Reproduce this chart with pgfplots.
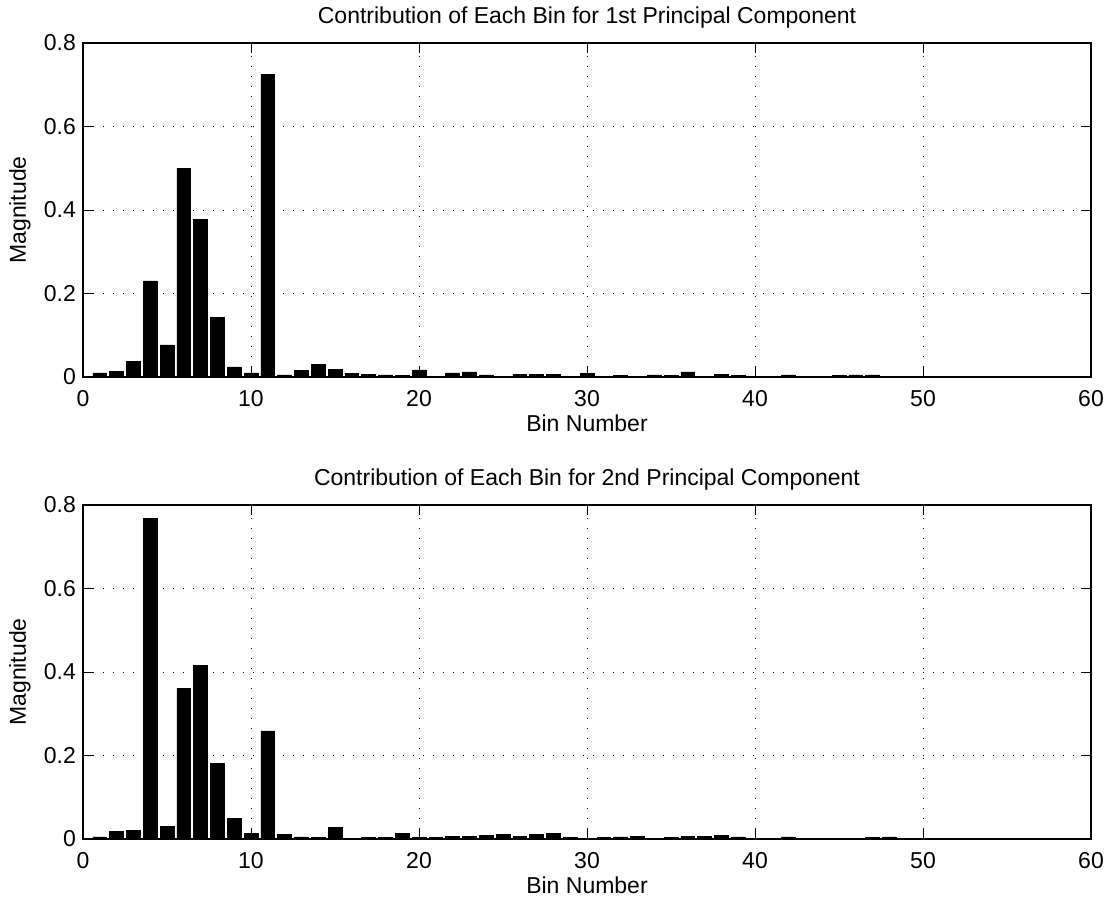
\documentclass[border=0pt]{standalone}
\usepackage{pgfplots}
\usepackage{pgfplotstable}
\usepackage{fontspec}
\setmainfont{Liberation Sans}
\pgfplotsset{compat=1.18}
\pgfplotstableread{
bin val
1 0.010
2 0.013
3 0.038
4 0.230
5 0.077
6 0.500
7 0.377
8 0.143
9 0.024
10 0.010
11 0.724
12 0.005
13 0.015
14 0.031
15 0.019
16 0.009
17 0.006
18 0.005
19 0.003
20 0.017
21 0.002
22 0.010
23 0.012
24 0.005
25 0.002
26 0.007
27 0.007
28 0.007
29 0.002
30 0.008
31 0.001
32 0.003
33 0.000
34 0.005
35 0.004
36 0.012
37 0.001
38 0.006
39 0.003
40 0.002
41 0.001
42 0.005
43 0.002
44 0.002
45 0.003
46 0.005
47 0.005
48 0.002
49 0.002
50 0.000
}\first
\pgfplotstableread{
bin val
1 0.005
2 0.018
3 0.021
4 0.768
5 0.031
6 0.360
7 0.416
8 0.181
9 0.049
10 0.013
11 0.259
12 0.012
13 0.005
14 0.004
15 0.028
16 0.002
17 0.003
18 0.004
19 0.013
20 0.004
21 0.003
22 0.006
23 0.006
24 0.009
25 0.011
26 0.006
27 0.012
28 0.013
29 0.004
30 0.002
31 0.003
32 0.005
33 0.006
34 0.002
35 0.004
36 0.006
37 0.007
38 0.009
39 0.005
40 0.002
41 0.001
42 0.005
43 0.001
44 0.001
45 0.001
46 0.001
47 0.004
48 0.005
49 0.002
50 0.000
}\second
\pgfplotsset{
  mystyle/.style={
    scale only axis,
    width=504pt, height=167pt,
    xmin=0, xmax=60, ymin=0, ymax=0.8,
    xtick={0,10,20,30,40,50,60},
    xticklabels={0,10,20,30,40,50,60},
    ytick={0,0.2,0.4,0.6,0.8},
    yticklabels={0,0.2,0.4,0.6,0.8},
    tick align=inside,
    major tick length=5pt,
    axis line style={line width=0.7pt},
    every tick/.style={line width=0.5pt, black},
    grid=major,
    major grid style={black, line width=0.5pt, dash pattern=on 0.6pt off 4.4pt},
    tick label style={font=\fontsize{11.5}{13}\selectfont},
    label style={font=\fontsize{11.5}{13}\selectfont},
    title style={font=\fontsize{11.5}{13}\selectfont, at={(axis description cs:0.5,1)}, anchor=center, yshift=6.5pt},
    xlabel={Bin Number},
    ylabel={Magnitude},
    xlabel style={at={(axis description cs:0.5,-0.1377)}, anchor=center},
    ylabel style={at={(axis description cs:-0.0625,0.5)}, anchor=center},
    xticklabel style={yshift=-3pt},
    yticklabel style={xshift=0pt},
  }
}
\begin{document}
\begin{tikzpicture}
\path[use as bounding box] (0pt,0pt) rectangle (553.5pt,-449.5pt);
\begin{axis}[mystyle, at={(41.5pt,-188.5pt)}, anchor=south west,
  title={Contribution of Each Bin for 1st Principal Component}]
\addplot[ybar, bar width=0.82, fill=black, draw=black, line width=0.3pt] table[x=bin,y=val] {\first};
\end{axis}
\begin{axis}[mystyle, at={(41.5pt,-419.5pt)}, anchor=south west,
  title={Contribution of Each Bin for 2nd Principal Component}]
\addplot[ybar, bar width=0.82, fill=black, draw=black, line width=0.3pt] table[x=bin,y=val] {\second};
\end{axis}
\end{tikzpicture}
\end{document}
